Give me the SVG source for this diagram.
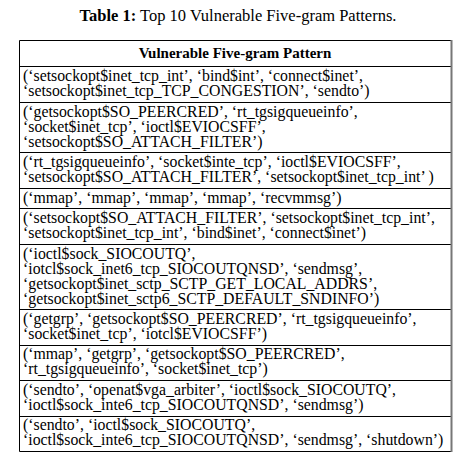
<svg xmlns="http://www.w3.org/2000/svg" width="473" height="466" viewBox="0 0 473 466">
<style>
.t{font-family:"Liberation Serif","Times New Roman",serif;font-size:15.8px;fill:#000}
.h{font-family:"Liberation Serif","Times New Roman",serif;font-size:15px;font-weight:bold;fill:#000}
.ttl{font-family:"Liberation Serif","Times New Roman",serif;font-size:16.5px;fill:#000}
.ln{stroke:#000;stroke-width:1;fill:none}
</style>
<rect width="473" height="466" fill="#fff"/>
<g id="title"><text class="ttl" x="238" y="21" text-anchor="middle"><tspan font-weight="bold">Table 1:</tspan> Top 10 Vulnerable Five-gram Patterns.</text></g>
<g id="grid">
<path class="ln" d="M19.5 40.5H451.5M19.5 40.5V451.5M19.5 451.5H451.5M19.5 66.5H451.5M19.5 102.5H451.5M19.5 152.5H451.5M19.5 188.5H451.5M19.5 208.5H451.5M19.5 244.5H451.5M19.5 309.5H451.5M19.5 345.5H451.5M19.5 380.5H451.5M19.5 416.5H451.5"/>
<path d="M451.5 40V452" stroke="#777" stroke-width="2"/>
</g>
<g id="header"><text class="h" x="235" y="58" text-anchor="middle">Vulnerable Five-gram Pattern</text></g>
<g id="row1"><text class="t" x="23" y="80.5">(‘setsockopt$inet_tcp_int’, ‘bind$int’, ‘connect$inet’,</text><text class="t" x="23" y="95.5">‘setsockopt$inet_tcp_TCP_CONGESTION’, ‘sendto’)</text></g>
<g id="row2"><text class="t" x="23" y="116.5">(‘getsockopt$SO_PEERCRED’, ‘rt_tgsigqueueinfo’,</text><text class="t" x="23" y="131.5">‘socket$inet_tcp’, ‘ioctl$EVIOCSFF’,</text><text class="t" x="23" y="146.5">‘setsockopt$SO_ATTACH_FILTER’)</text></g>
<g id="row3"><text class="t" x="23" y="166.5">(‘rt_tgsigqueueinfo’, ‘socket$inte_tcp’, ‘ioctl$EVIOCSFF’,</text><text class="t" x="23" y="181.5">‘setsockopt$SO_ATTACH_FILTER’, ‘setsockopt$inet_tcp_int’ )</text></g>
<g id="row4"><text class="t" x="23" y="202.5">(‘mmap’, ‘mmap’, ‘mmap’, ‘mmap’, ‘recvmmsg’)</text></g>
<g id="row5"><text class="t" x="23" y="222.5">(‘setsockopt$SO_ATTACH_FILTER’, ‘setsockopt$inet_tcp_int’,</text><text class="t" x="23" y="237.5">‘setsockopt$inet_tcp_int’, ‘bind$inet’, ‘connect$inet’)</text></g>
<g id="row6"><text class="t" x="23" y="258.5">(‘ioctl$sock_SIOCOUTQ’,</text><text class="t" x="23" y="273.5">‘iotcl$sock_inet6_tcp_SIOCOUTQNSD’, ‘sendmsg’,</text><text class="t" x="23" y="288.5">‘getsockopt$inet_sctp_SCTP_GET_LOCAL_ADDRS’,</text><text class="t" x="23" y="303.5">‘getsockopt$inet_sctp6_SCTP_DEFAULT_SNDINFO’)</text></g>
<g id="row7"><text class="t" x="23" y="323.5">(‘getgrp’, ‘getsockopt$SO_PEERCRED’, ‘rt_tgsigqueueinfo’,</text><text class="t" x="23" y="338.5">‘socket$inet_tcp’, ‘iotcl$EVIOCSFF’)</text></g>
<g id="row8"><text class="t" x="23" y="359">(‘mmap’, ‘getgrp’, ‘getsockopt$SO_PEERCRED’,</text><text class="t" x="23" y="374">‘rt_tgsigqueueinfo’, ‘socket$inet_tcp’)</text></g>
<g id="row9"><text class="t" x="23" y="394.5">(‘sendto’, ‘openat$vga_arbiter’, ‘ioctl$sock_SIOCOUTQ’,</text><text class="t" x="23" y="409.5">‘ioctl$sock_inte6_tcp_SIOCOUTQNSD’, ‘sendmsg’)</text></g>
<g id="row10"><text class="t" x="23" y="430">(‘sendto’, ‘ioctl$sock_SIOCOUTQ’,</text><text class="t" x="23" y="445">‘ioctl$sock_inte6_tcp_SIOCOUTQNSD’, ‘sendmsg’, ‘shutdown’)</text></g>
</svg>
